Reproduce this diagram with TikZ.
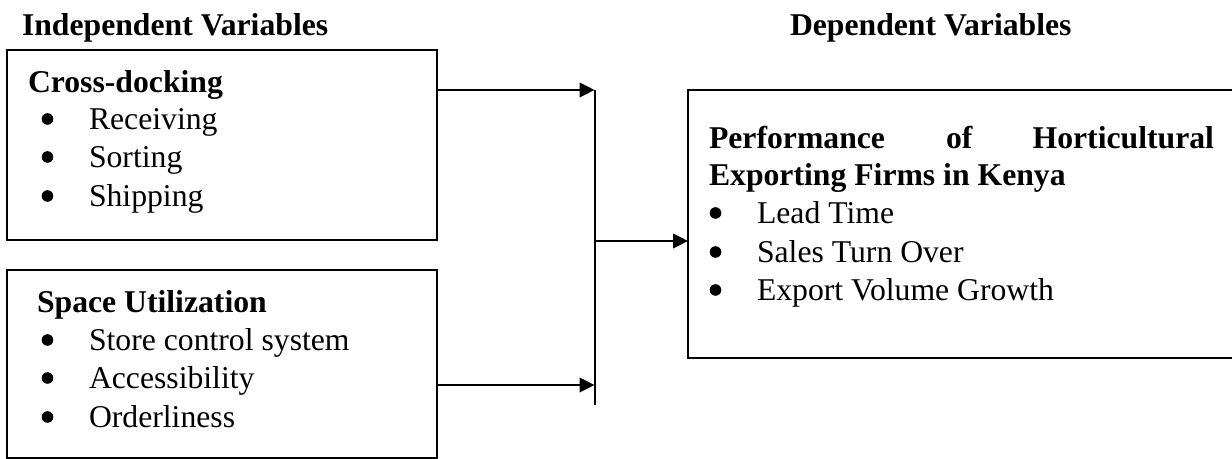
\documentclass[tikz,border=0pt]{standalone}
\usepackage{fontspec}
\setmainfont{Liberation Serif}
\usetikzlibrary{arrows.meta}
\begin{document}
\begin{tikzpicture}[x=0.5pt,y=-0.5pt,
  box/.style={draw, line width=1pt, inner sep=0pt, outer sep=0pt, anchor=north west},
  txt/.style={inner sep=0pt, outer sep=0pt, anchor=base west, font=\fontsize{15.85}{19}\selectfont},
  hd/.style={txt, font=\fontsize{15.85}{19}\selectfont\bfseries},
  hdr/.style={hd, anchor=base east},
  bul/.style={circle, fill=black, draw=none, inner sep=0pt, outer sep=0pt, minimum size=5.8pt},
  arr/.style={line width=1pt, -{Triangle[length=7.5pt,width=7.3pt]}},
  ln/.style={line width=1pt}]
\useasboundingbox (0,0) rectangle (1232,459);
% titles
\node[hd] (tind) at (22,36) {Independent Variables};
\node[hd] (tdep) at (790,36) {Dependent Variables};
% boxes
\node[box, minimum width=215pt, minimum height=95pt] (box1) at (7,50) {};
\node[box, minimum width=215pt, minimum height=94pt] (box2) at (7,270) {};
\node[box, minimum width=280pt, minimum height=134pt] (box3) at (688,90) {};
% box 1 text
\node[hd] (h1) at (28,93) {Cross-docking};
\node[bul] (b11) at (47.5,119) {};
\node[txt] (i11) at (89,130) {Receiving};
\node[bul] (b12) at (47.5,157) {};
\node[txt] (i12) at (89,168) {Sorting};
\node[bul] (b13) at (47.5,196) {};
\node[txt] (i13) at (89,207) {Shipping};
% box 2 text
\node[hd] (h2) at (37,313) {Space Utilization};
\node[bul] (b21) at (47.5,340) {};
\node[txt] (i21) at (89,351) {Store control system};
\node[bul] (b22) at (47.5,378) {};
\node[txt] (i22) at (89,389) {Accessibility};
\node[bul] (b23) at (47.5,417) {};
\node[txt] (i23) at (89,428) {Orderliness};
% box 3 text
\node[hd] (h3a) at (709,149) {Performance};
\node[hd] (h3b) at (946,149) {of};
\node[hdr] (h3c) at (1214,149) {Horticultural};
\node[hd] (h3d) at (709,186) {Exporting Firms in Kenya};
\node[bul] (b31) at (715.5,213) {};
\node[txt] (i31) at (757,224) {Lead Time};
\node[bul] (b32) at (715.5,252) {};
\node[txt] (i32) at (757,263) {Sales Turn Over};
\node[bul] (b33) at (715.5,290) {};
\node[txt] (i33) at (757,301) {Export Volume Growth};
% connectors
\coordinate (j1) at (594.5,90);
\coordinate (j2) at (594.5,385);
\coordinate (jm) at (594.5,241);
\coordinate (jend) at (594.5,405);
\draw[arr] (box1.east |- j1) -- (j1);
\draw[arr] (box2.east |- j2) -- (j2);
\draw[ln] (j1) -- (jend);
\draw[arr] (jm) -- (jm -| box3.west);
\end{tikzpicture}
\end{document}
